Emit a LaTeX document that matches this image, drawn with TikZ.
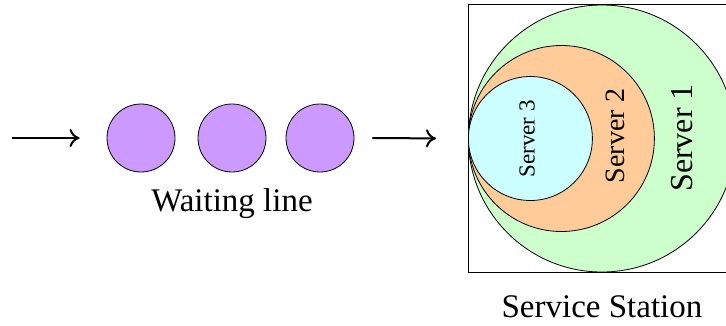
\documentclass[tikz,border=0pt]{standalone}
\usepackage{fontspec}
\setmainfont{Liberation Serif}
\usetikzlibrary{arrows.meta,positioning}
\definecolor{lilac}{HTML}{CC99FF}
\definecolor{mint}{HTML}{CCFFCC}
\definecolor{peach}{HTML}{FFCC99}
\definecolor{ice}{HTML}{CCFFFF}

\begin{document}
\begin{tikzpicture}[x=1pt,y=-1pt,
  queue/.style={circle,draw,fill=lilac,minimum size=68pt,inner sep=0pt,line width=0.8pt},
  server/.style={circle,draw,inner sep=0pt,line width=0.8pt,anchor=west},
  lbl/.style={font=\fontsize{33}{40}\selectfont},
  ar/.style={-{To[length=10pt,width=18pt]},line width=2pt}]
  \clip (0,0) rectangle (726,325);
  \node[draw,line width=1pt,minimum width=268pt,minimum height=268pt,inner sep=0pt,anchor=north west] (station) at (468,4) {};
  \node[server,fill=mint,minimum size=267pt] (s1) at (station.west) {};
  \node[server,fill=peach,minimum size=186pt] (s2) at (station.west) {};
  \node[server,fill=ice,minimum size=124pt] (s3) at (station.west) {};
  \node[rotate=90,font=\fontsize{32}{38}\selectfont] (t1) at (682,138) {Server 1};
  \node[rotate=90,font=\fontsize{28}{34}\selectfont] (t2) at (615,136) {Server 2};
  \node[rotate=90,font=\fontsize{23}{28}\selectfont] (t3) at (527,139) {Server 3};
  \foreach \x [count=\i] in {141,232,320} \node[queue] (q\i) at (\x,138) {};
  \node[lbl] (wait) at (232,204) {Waiting line};
  \node[lbl] (serv) at (602,307) {Service Station};
  \coordinate (in) at (12,138);
  \draw[ar,shorten >=27pt] (in) -- (q1.west);
  \draw[ar,shorten <=18pt,shorten >=32pt] (q3.east) -- (station.west);
\end{tikzpicture}
\end{document}
